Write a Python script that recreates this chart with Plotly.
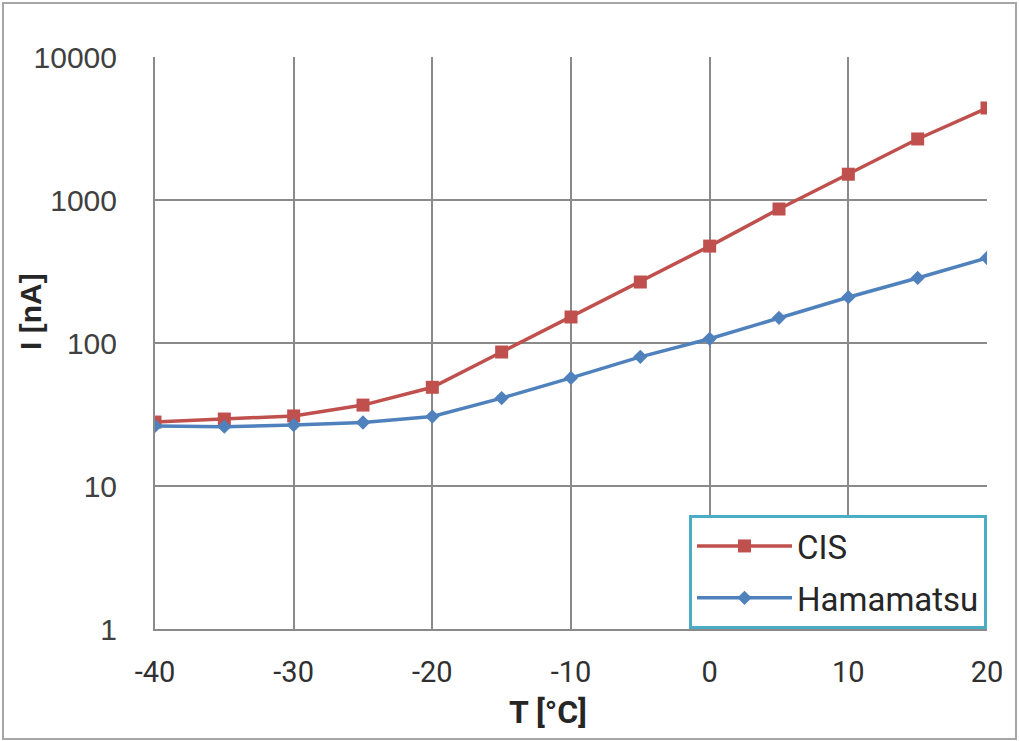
import plotly.graph_objects as go

temps = [-40, -35, -30, -25, -20, -15, -10, -5, 0, 5, 10, 15, 20]
cis = [28, 29.4, 30.9, 36.8, 49, 86.5, 152, 267, 476, 865, 1515, 2672, 4400]
hamamatsu = [26.3, 26.0, 26.7, 27.8, 30.6, 41.2, 57, 80, 107, 150, 209, 285, 393]
x_ticks = [-40, -30, -20, -10, 0, 10, 20]
y_ticks = [1, 10, 100, 1000, 10000]

cond = "Roboto, Liberation Sans, sans-serif"
arial = "Liberation Sans, Arial, sans-serif"

fig = go.Figure()
fig.add_trace(go.Scatter(
    x=temps, y=cis, name="CIS", mode="lines+markers", legendgroup="a",
    line=dict(color="#c0504d", width=3.5),
    marker=dict(symbol="square", size=13, color="#c0504d"),
))
fig.add_trace(go.Scatter(
    x=temps, y=hamamatsu, name="Hamamatsu", mode="lines+markers", legendgroup="b",
    line=dict(color="#4f81bd", width=3.5),
    marker=dict(symbol="diamond", size=11, color="#4f81bd"),
))

fig.update_layout(
    width=1019, height=741,
    margin=dict(l=155, r=32, t=57, b=112),
    paper_bgcolor="white", plot_bgcolor="white",
    showlegend=True,
    legend=dict(
        x=1, y=0, xanchor="right", yanchor="bottom",
        bgcolor="white", bordercolor="#4bacc6", borderwidth=3,
        font=dict(family=cond, size=33, color="#262626"),
        itemwidth=95, tracegroupgap=6,
    ),
    xaxis=dict(
        range=[-40, 20], tickvals=x_ticks, ticktext=[str(v) for v in x_ticks],
        showgrid=True, gridcolor="#8a8a8a", gridwidth=2,
        showline=True, linecolor="#8a8a8a", linewidth=2,
        ticks="", zeroline=False, ticklabelstandoff=16,
        tickfont=dict(family=cond, size=29, color="#303030"),
    ),
    yaxis=dict(
        type="log", range=[0, 4], tickvals=y_ticks, ticktext=[str(v) for v in y_ticks],
        showgrid=True, gridcolor="#8a8a8a", gridwidth=2,
        showline=True, linecolor="#8a8a8a", linewidth=2,
        ticks="", zeroline=False, ticklabelstandoff=30,
        tickfont=dict(family=arial, size=30, color="#404040"),
    ),
    annotations=[
        dict(text="<b>T [°C]</b>", xref="paper", yref="paper", x=(548 - 155) / 832, y=-83 / 572,
             xanchor="center", yanchor="middle", showarrow=False,
             font=dict(family=cond, size=32, color="#262626")),
        dict(text="<b>I [nA]</b>", xref="paper", yref="paper", x=(30 - 155) / 832, y=(629 - 312) / 572,
             xanchor="center", yanchor="middle", showarrow=False, textangle=-90,
             font=dict(family=arial, size=30, color="#262626")),
    ],
)

# outer frame of the chart image
fig.add_shape(type="rect", xref="paper", yref="paper",
              x0=-152/832, x1=1 + 29/832, y0=-110/572, y1=1 + 54/572,
              line=dict(color="#a6a6a6", width=2), fillcolor="rgba(0,0,0,0)", layer="below")

fig.write_html("out.html")
